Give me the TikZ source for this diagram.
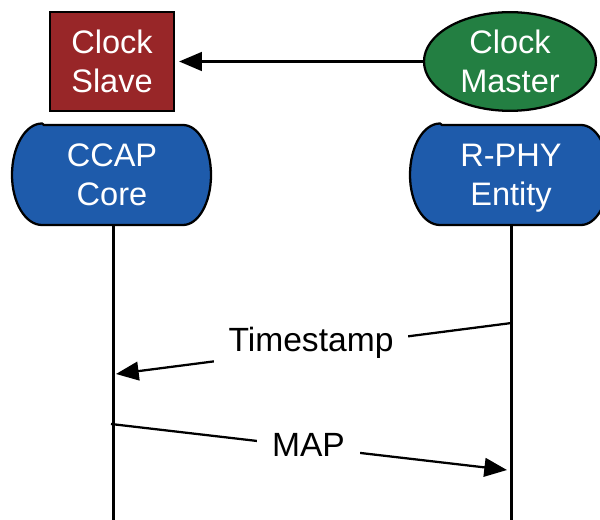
\documentclass[tikz,border=0pt]{standalone}
\usepackage{fontspec}
\setmainfont{Liberation Sans}
\usetikzlibrary{arrows.meta,shapes.geometric}
\definecolor{coreblue}{RGB}{30,91,171}
\definecolor{slavered}{RGB}{152,38,40}
\definecolor{mastergreen}{RGB}{35,127,66}
\tikzset{
  ln/.style={draw=black,line width=1.7pt},
  arr/.style={ln,-{Triangle[length=17pt,width=14pt]}},
  wt/.style={text=white,font=\fontsize{24.4pt}{29.2pt}\selectfont,align=center,inner sep=0pt},
  lbl/.style={text=black,font=\fontsize{25.2pt}{29pt}\selectfont,inner xsep=11pt,inner ysep=3pt,fill=white},
  pill/.style={fill=coreblue,draw=black,line width=1.7pt}
}
\begin{document}
\begin{tikzpicture}[x=0.75pt,y=-0.75pt]
\useasboundingbox (0,0) rectangle (600,520);
\fill[white] (0,0) rectangle (600,520);
\coordinate (coreend) at (113.5,520);
\coordinate (rphyend) at (511.5,520);
\coordinate (tsstart) at (511.5,323);
\coordinate (tsend) at (116,374);
\coordinate (mapstart) at (111,424);
\coordinate (mapend) at (507,470);
\draw[pill] (44,125) -- (183,125) arc[start angle=-90,end angle=0,x radius=28,y radius=50]
  arc[start angle=0,end angle=90,x radius=28,y radius=50] -- (42,225)
  arc[start angle=90,end angle=180,x radius=30,y radius=50]
  arc[start angle=180,end angle=270,x radius=30,y radius=51.5] -- cycle;
\draw[pill] (442,125) -- (581,125) arc[start angle=-90,end angle=0,x radius=28,y radius=50]
  arc[start angle=0,end angle=90,x radius=28,y radius=50] -- (440,225)
  arc[start angle=90,end angle=180,x radius=30,y radius=50]
  arc[start angle=180,end angle=270,x radius=30,y radius=51.5] -- cycle;
\node[wt,minimum width=150pt,minimum height=75pt] (core) at (112,178) {CCAP\\Core\vphantom{y}};
\node[wt,minimum width=150pt,minimum height=75pt] (rphy) at (511,178) {R-PHY\\Entity};
\node[draw=black,line width=1.7pt,fill=slavered,minimum width=93pt,minimum height=74pt,inner sep=0pt,wt] (slave) at (112,61.5) {Clock\\Slave};
\node[draw=black,line width=1.7pt,fill=mastergreen,ellipse,minimum width=129pt,minimum height=74pt,inner sep=0pt,wt] (master) at (510,61.5) {Clock\\Master};
\draw[arr] (master.west) -- ([xshift=3pt]slave.east);
\draw[ln] (113.5,225) -- (coreend);
\draw[ln] (511.5,225) -- (rphyend);
\draw[arr] (tsstart) -- (tsend);
\draw[arr] (mapstart) -- (mapend);
\node[lbl] (ts) at (311,343) {Timestamp};
\node[lbl] (map) at (308.5,445) {MAP};
\end{tikzpicture}
\end{document}
